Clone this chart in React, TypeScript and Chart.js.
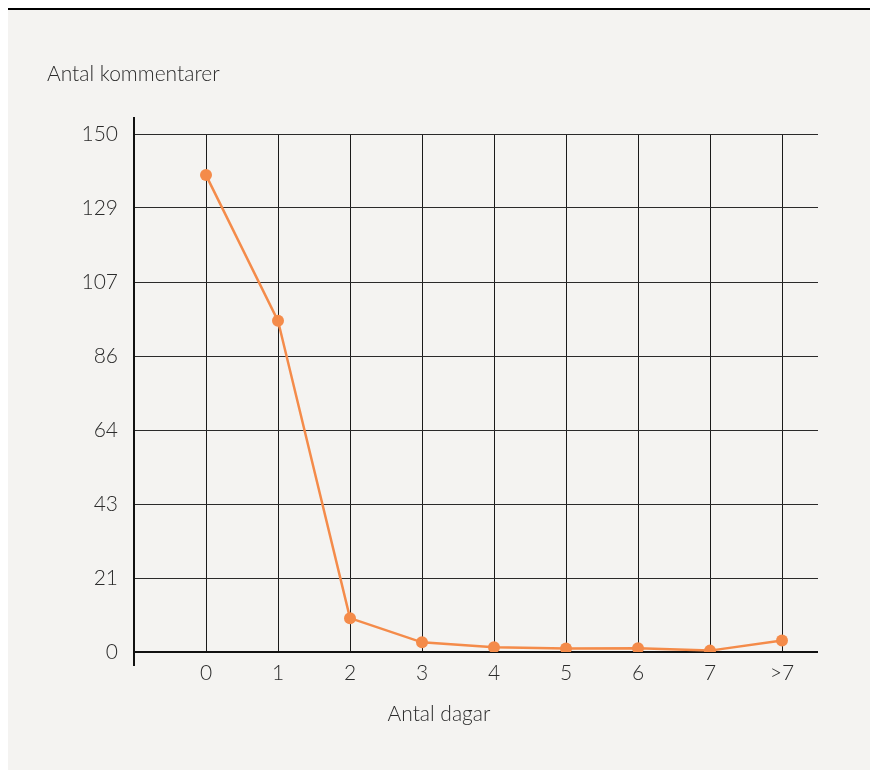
import React, { useEffect, useRef } from 'react';
import { Chart, registerables } from 'chart.js';

Chart.register(...registerables);

const categories = ['0', '1', '2', '3', '4', '5', '6', '7', '>7'];
const comments = [138.1, 95.9, 9.8, 2.8, 1.4, 1.0, 1.1, 0.4, 3.3];
const yTickLabels = ['0', '21', '43', '64', '86', '107', '129', '150'];
const yMax = 150;
const yTitle = 'Antal kommentarer';
const xTitle = 'Antal dagar';

const FONT_FAMILY = "Lato, 'Open Sans', 'DejaVu Sans', sans-serif";
const FONT_SIZE = 21;
const TEXT_COLOR = '#2b2b2b';
const LINE_COLOR = '#F48B4A';
const W = 862;
const H = 760;

const axisLines = {
  id: 'axisLines',
  beforeDatasetsDraw(chart: any) {
    const { ctx, chartArea: a } = chart;
    ctx.save();
    ctx.strokeStyle = '#111111';
    ctx.lineWidth = 2;
    ctx.beginPath();
    ctx.moveTo(a.left, a.top - 17);
    ctx.lineTo(a.left, a.bottom + 14);
    ctx.moveTo(a.left, a.bottom);
    ctx.lineTo(a.right, a.bottom);
    ctx.stroke();
    ctx.restore();
  },
};

export default function App() {
  const ref = useRef<HTMLCanvasElement>(null);

  useEffect(() => {
    const chart = new Chart(ref.current as HTMLCanvasElement, {
      type: 'line',
      data: {
        datasets: [
          {
            data: comments.map((v, i) => ({ x: i, y: v })),
            borderColor: LINE_COLOR,
            backgroundColor: LINE_COLOR,
            borderWidth: 2.5,
            pointRadius: 6,
            pointBorderWidth: 0,
            pointBackgroundColor: LINE_COLOR,
            tension: 0,
          },
        ],
      },
      options: {
        animation: false,
        responsive: false,
        devicePixelRatio: 1,
        layout: { padding: { left: 0, top: 124, right: 52, bottom: 0 } },
        plugins: {
          legend: { display: false },
          tooltip: { enabled: false },
          title: { display: false },
        },
        scales: {
          x: {
            type: 'linear',
            min: -1,
            max: categories.length - 0.5,
            afterFit: (scale: any) => {
              scale.height = 118;
            },
            border: { display: false },
            grid: {
              drawTicks: false,
              lineWidth: 1,
              color: (ctx: any) =>
                ctx.tick && ctx.tick.value >= 0 && Number.isInteger(ctx.tick.value)
                  ? '#1a1a1a'
                  : 'rgba(0,0,0,0)',
            },
            ticks: {
              stepSize: 1,
              includeBounds: false,
              autoSkip: false,
              maxRotation: 0,
              padding: 9,
              color: TEXT_COLOR,
              font: { family: FONT_FAMILY, size: FONT_SIZE, weight: '300' as any },
              callback: (v: any) => (categories[v as number] !== undefined ? categories[v as number] : ''),
            },
          },
          y: {
            type: 'linear',
            min: 0,
            max: yMax,
            afterFit: (scale: any) => {
              scale.width = 126;
            },
            afterBuildTicks: (scale: any) => {
              scale.ticks = yTickLabels.map((_, i) => ({ value: (i * yMax) / (yTickLabels.length - 1) }));
            },
            border: { display: false },
            grid: {
              drawTicks: false,
              lineWidth: 1,
              color: '#2a2a2a',
            },
            ticks: {
              padding: 16,
              color: TEXT_COLOR,
              font: { family: FONT_FAMILY, size: FONT_SIZE, weight: '300' as any },
              callback: (_v: any, i: number) => yTickLabels[i],
            },
          },
        },
      },
      plugins: [axisLines],
    });
    return () => chart.destroy();
  }, []);

  const textStyle: React.CSSProperties = {
    position: 'absolute',
    fontFamily: FONT_FAMILY,
    fontWeight: 300,
    fontSize: FONT_SIZE,
    lineHeight: '25px',
    color: TEXT_COLOR,
    whiteSpace: 'nowrap',
  };

  return (
    <div
      style={{
        position: 'fixed',
        left: 8,
        top: 8,
        right: 0,
        height: H,
        background: '#f4f3f1',
        borderTop: '2px solid #000',
        overflow: 'hidden',
      }}
    >
      <canvas ref={ref} width={W} height={H} style={{ position: 'absolute', left: 0, top: 0, width: W, height: H }} />
      <div style={{ ...textStyle, left: 39, top: 50 }}>{yTitle}</div>
      <div style={{ ...textStyle, left: 0, width: W, textAlign: 'center', top: 690 }}>{xTitle}</div>
    </div>
  );
}
